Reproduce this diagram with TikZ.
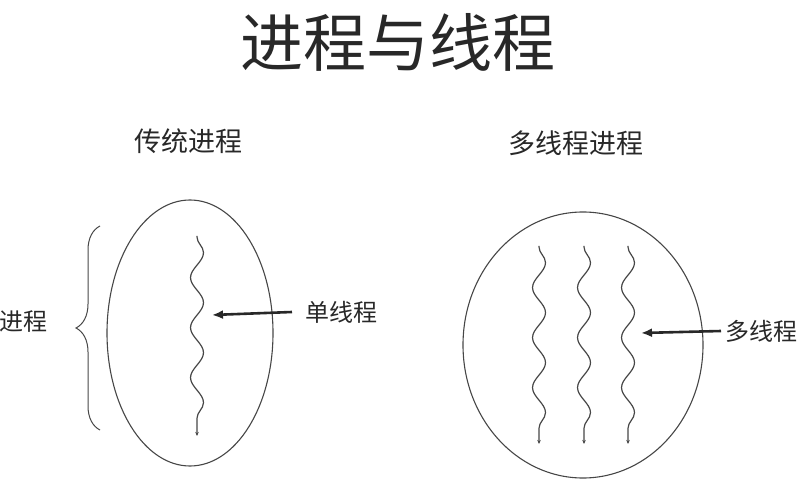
\documentclass[tikz,border=0pt]{standalone}
\usepackage{fontspec}
\setmainfont{Noto Sans CJK SC}
\usetikzlibrary{arrows.meta,positioning,decorations.pathmorphing,decorations.pathreplacing}
\definecolor{inkGray}{RGB}{40,40,40}
\definecolor{lineGray}{RGB}{70,70,70}

\begin{document}
\begin{tikzpicture}[
  x=1pt,y=-1pt,
  every node/.style={text=inkGray,inner sep=1pt},
  title/.style={font=\fontsize{63}{63}\selectfont},
  head/.style={font=\fontsize{27}{27}\selectfont},
  lbl/.style={font=\fontsize{24}{24}\selectfont},
  shell/.style={draw=lineGray,line width=1.1pt},
  thread/.style={draw=lineGray,line width=1.2pt,decorate,
    decoration={snake,segment length=50pt,amplitude=6.5pt,pre length=1pt,post length=4pt},
    -{Stealth[length=4pt,width=3.5pt]}},
  arr/.style={-{Latex[length=11pt,width=9pt]},line width=2.6pt,inkGray}]
\useasboundingbox (0,0) rectangle (797,502);
\node[title] (main) at (398,42) {进程与线程};
% left: classic process
\node[head] (classic) at (188,141) {传统进程};
\draw[shell] (190,333) ellipse (83 and 133);
\draw[thread] (197,236) -- (197,436);
\coordinate (t1) at (212,315);
\node[lbl,anchor=west] (single) at (304,312) {单线程};
\draw[arr] ([xshift=-12pt]single.west) -- (t1);
\draw[draw=lineGray,line width=1pt,decorate,decoration={brace,amplitude=24pt}] (100,430) -- (100,226);
\node[lbl,anchor=east] (proc) at (49,322) {进程};
% right: multithreaded process
\node[head] (multi) at (576,143) {多线程进程};
\draw[shell] (583,345) ellipse (120 and 133);
\foreach \tx in {539,584,628}
  \draw[thread] (\tx,246) -- (\tx,444);
\coordinate (t2) at (641,333);
\node[lbl,anchor=west] (many) at (724,331) {多线程};
\draw[arr] ([xshift=-3pt]many.west) -- (t2);
\end{tikzpicture}
\end{document}
